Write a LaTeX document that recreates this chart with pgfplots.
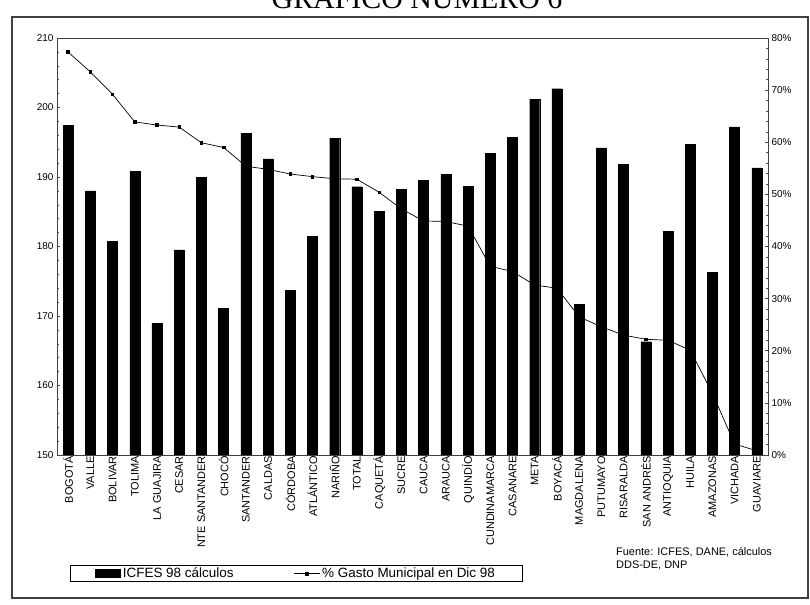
\documentclass[border=0pt]{standalone}
\usepackage{fontspec}
\setmainfont{Liberation Sans}
\newfontfamily\titlefont{Liberation Serif}
\usepackage{pgfplots}
\usepackage{pgfplotstable}
\pgfplotsset{compat=1.18}

\pgfplotstableread{
idx icfes gasto
0  197.4 77.3
1  188.0 73.5
2  180.7 69.2
3  190.8 63.9
4  168.9 63.3
5  179.5 62.9
6  189.9 59.9
7  171.1 59.0
8  196.3 55.4
9  192.6 54.8
10 173.7 53.9
11 181.5 53.4
12 195.6 53.0
13 188.6 52.9
14 185.1 50.4
15 188.2 47.2
16 189.5 44.9
17 190.4 44.8
18 188.7 43.9
19 193.4 36.2
20 195.7 35.2
21 201.2 32.6
22 202.7 32.0
23 171.7 26.5
24 194.2 24.6
25 191.8 23.0
26 166.3 22.2
27 182.2 22.0
28 194.7 20.1
29 176.3 11.8
30 197.2 2.1
31 191.3 0.8
}\datatable

\begin{document}
\begin{tikzpicture}[x=1bp,y=1bp]
\useasboundingbox (0,0) rectangle (810,605);
\clip (0,0) rectangle (810,605);
\draw[line width=1.6bp, black!75] (12,7) rectangle (808,588);
\node[font=\titlefont\fontsize{30}{32}\selectfont, anchor=base] at (417,596) {GRÁFICO NÚMERO 6};
\node[font=\fontsize{11}{13}\selectfont, anchor=north west, align=left, inner sep=0pt] at (616,58) {Fuente: ICFES, DANE, cálculos\\DDS-DE, DNP};

\begin{axis}[
  at={(57bp,150bp)}, anchor=south west,
  scale only axis, width=711bp, height=417bp,
  xmin=-0.5, xmax=31.5, ymin=150, ymax=210,
  ytick={150,160,...,210},
  ytick pos=left,
  minor y tick num=4,
  tick align=inside,
  major tick length=3bp, minor tick length=2bp,
  axis line style={black!75, line width=0.6bp},
  every tick/.style={black!70, line width=0.5bp},
  xtick=data,
  xtick style={draw=none},
  minor x tick num=1,
  xtick pos=bottom,
  xticklabels={BOGOTÁ,VALLE,BOLIVAR,TOLIMA,LA GUAJIRA,CESAR,NTE SANTANDER,CHOCÓ,SANTANDER,CALDAS,CÓRDOBA,ATLÁNTICO,NARIÑO,TOTAL,CAQUETÁ,SUCRE,CAUCA,ARAUCA,QUINDÍO,CUNDINAMARCA,CASANARE,META,BOYACÁ,MAGDALENA,PUTUMAYO,RISARALDA,SAN ANDRÉS,ANTIOQUIA,HUILA,AMAZONAS,VICHADA,GUAVIARE},
  xticklabel style={rotate=90, anchor=east, font=\fontsize{11}{12}\selectfont, inner sep=1bp},
  yticklabel style={font=\fontsize{10}{12}\selectfont},
  /pgf/number format/assume math mode=true,
  legend columns=2,
  legend style={at={(0.0183,-0.264)}, anchor=north west, draw=black, line width=0.6bp,
    font=\fontsize{13.5}{14}\selectfont, inner xsep=25bp, inner ysep=0.5bp,
    /tikz/every even column/.append style={column sep=58bp}},
  legend cell align=left,
]
\addplot[ybar, bar width=10bp, fill=black, draw=black,
  legend image code/.code={\fill[black] (0bp,-4bp) rectangle (25bp,4bp);}]
  table[x=idx, y=icfes]{\datatable};
\addlegendentry{ICFES 98 cálculos}
\addlegendimage{black, line width=0.7bp, mark=square*, mark size=1.3bp,
  legend image code/.code={\draw[black, line width=0.7bp] (0bp,0bp) -- (26bp,0bp); \fill[black] (11bp,-1.5bp) rectangle (14bp,1.5bp);}}
\addlegendentry{\% Gasto Municipal en Dic 98}
\end{axis}

\begin{axis}[
  at={(57bp,150bp)}, anchor=south west,
  scale only axis, width=711bp, height=417bp,
  xmin=-0.5, xmax=31.5, ymin=0, ymax=80,
  axis x line=none,
  axis y line*=right,
  ytick={0,10,...,80},
  minor y tick num=4,
  tick align=inside,
  major tick length=3bp, minor tick length=2bp,
  axis line style={black!75, line width=0.6bp},
  every tick/.style={black!70, line width=0.5bp},
  yticklabel={\pgfmathprintnumber{\tick}\%},
  yticklabel style={font=\fontsize{10}{12}\selectfont},
  /pgf/number format/assume math mode=true,
]
\addplot[black, line width=0.7bp, mark=square*, mark size=1.3bp]
  table[x=idx, y=gasto]{\datatable};
\end{axis}
\end{tikzpicture}
\end{document}
